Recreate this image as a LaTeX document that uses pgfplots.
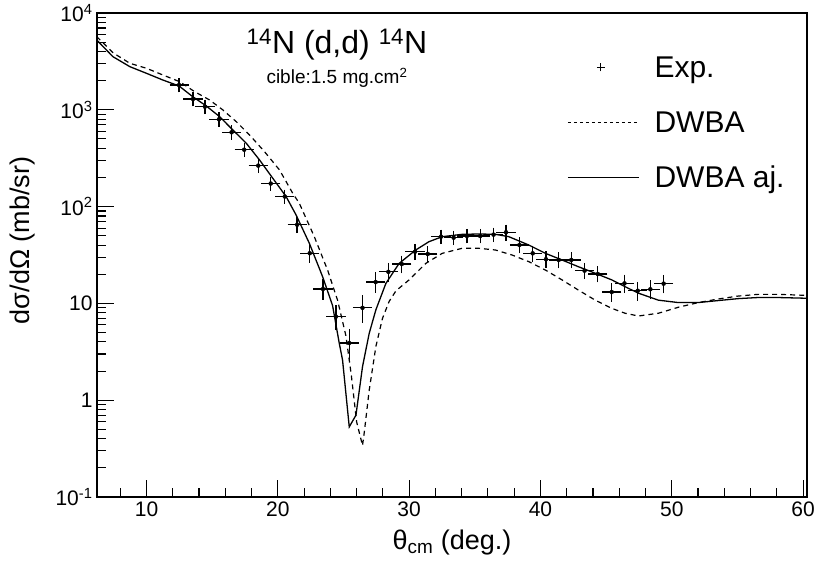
\documentclass[border=0pt]{standalone}
\usepackage{pgfplots}
\pgfplotsset{compat=1.18}
\usepackage{pgfplotstable}
\usepackage{fontspec}
\setmainfont{Liberation Sans}

\pgfplotstableread{
x y ex ey
12.48 1803 0.5 0.10
13.54 1294 0.5 0.10
14.45 1077 0.5 0.10
15.52 798 0.5 0.10
16.48 586 0.5 0.10
17.44 387 0.5 0.10
18.51 265 0.5 0.10
19.46 173 0.5 0.10
20.53 127 0.5 0.10
21.47 65 0.5 0.12
22.43 33 0.5 0.14
23.44 14.1 0.5 0.17
24.43 7.3 0.5 0.22
25.44 3.9 0.5 0.30
26.45 9.0 0.5 0.25
27.45 16.6 0.5 0.17
28.42 21.2 0.5 0.15
29.44 25.5 0.5 0.14
30.45 34.2 0.5 0.12
31.42 32.4 0.5 0.12
32.43 48.9 0.5 0.10
33.39 47.7 0.5 0.10
34.40 49.7 0.5 0.10
35.41 49.7 0.5 0.10
36.43 51.3 0.5 0.10
37.38 54.3 0.5 0.12
38.40 40.1 0.5 0.12
39.41 32.9 0.5 0.12
40.42 28.6 0.5 0.12
41.39 28.1 0.5 0.12
42.35 28.1 0.5 0.12
43.36 21.8 0.5 0.12
44.37 20.1 0.5 0.12
45.43 13.1 0.5 0.15
46.40 16.1 0.5 0.15
47.41 13.5 0.5 0.15
48.37 14.0 0.5 0.15
49.38 16.0 0.5 0.15
}\expdata

\pgfplotstableread{
x y
6.21 5700
7.47 3865
8.74 3020
10.0 2685
11.24 2291
12.53 1951
13.67 1538
14.81 1262
15.82 995
16.84 754
17.85 549
18.99 369
20.13 239
21.14 137
21.64 108
22.78 48.9
23.79 22.1
24.55 10.8
25.19 4.6
25.60 1.8
26.00 0.6
26.45 0.34
26.58 0.46
26.96 1.27
27.47 3.6
27.97 7.0
28.48 10.5
29.00 13.5
30.00 17.5
31.27 25.9
32.52 32.9
34.04 37.1
35.31 37.1
36.58 35.6
37.84 31.6
39.11 27.0
40.38 22.1
41.64 17.5
42.90 13.7
44.17 10.8
45.43 8.89
46.45 7.91
47.46 7.41
48.98 7.91
50.50 9.12
52.02 10.2
53.54 11.1
55.05 11.9
56.57 12.4
58.09 12.4
60.30 12.1
}\dwba

\pgfplotstableread{
x y
6.21 5260
7.44 3540
8.74 2786
10.0 2381
11.24 2032
12.48 1762
13.52 1366
14.56 1094
15.57 849
16.58 618
17.60 451
18.61 303
19.62 196
20.63 127
21.39 82
22.40 41.8
23.41 18.9
24.17 9.5
24.68 3.87
24.93 2.6
25.44 0.53
25.95 0.70
26.45 2.22
26.96 4.91
27.47 8.6
28.23 16.1
29.24 25.9
30.50 35.6
31.51 43.4
32.52 48.9
34.04 51.7
35.31 52.1
36.58 51.7
37.59 48.9
39.11 40.1
40.38 32.9
41.64 28.1
42.90 23.9
44.17 20.5
45.43 17.5
46.70 14.3
47.50 12.7
48.98 10.8
50.50 10.2
52.02 10.2
53.54 10.7
55.05 11.2
56.57 11.5
58.09 11.5
60.30 11.3
}\dwbaaj

\begin{document}
\begin{tikzpicture}
\useasboundingbox (0,0) rectangle (814pt,565pt);
\begin{axis}[
  at={(97pt,68pt)}, anchor=south west,
  width=710pt, height=484pt, scale only axis,
  xmin=6.23, xmax=60.3,
  ymode=log, ymin=0.1, ymax=10000,
  xtick={10,20,30,40,50,60},
  minor xtick={8,12,14,16,18,22,24,26,28,32,34,36,38,42,44,46,48,52,54,56,58},
  ytick={0.1,1,10,100,1000,10000},
  yticklabels={10\textsuperscript{-1},1,10,10\textsuperscript{2},10\textsuperscript{3},10\textsuperscript{4}},
  minor ytick={0.2,0.3,0.4,0.5,0.6,0.7,0.8,0.9,2,3,4,5,6,7,8,9,20,30,40,50,60,70,80,90,200,300,400,500,600,700,800,900,2000,3000,4000,5000,6000,7000,8000,9000},
  xtick pos=bottom, ytick pos=left,
  tick align=inside,
  major tick length=17pt, minor tick length=9pt,
  every tick/.style={black, line width=1.1pt},
  axis line style={line width=1.3pt},
  /pgf/number format/assume math mode=true,
  tick label style={font=\fontsize{21}{22}\selectfont},
  xticklabel style={yshift=-1pt},
  yticklabel style={xshift=-1pt},
  xlabel={θ\textsubscript{cm} (deg.)},
  ylabel={dσ/dΩ (mb/sr)},
  label style={font=\fontsize{27}{29}\selectfont},
  xlabel style={at={(axis description cs:0.5,-0.095)}, anchor=center},
  ylabel style={at={(axis description cs:-0.105,0.53)}, anchor=center},
  legend style={at={(axis description cs:0.662,0.91)}, anchor=north west,
    draw=none, fill=none, font=\fontsize{30}{31}\selectfont,
    row sep=34pt, column sep=15pt, inner sep=0pt,
    nodes={inner sep=0pt, text height=21pt, text depth=0pt}},
  legend cell align=left,
]
\addplot[black, only marks, mark=none,
  legend image code/.code={\draw[black, line width=0.8pt] (33pt,-4pt) -- (33pt,4pt) (29pt,0pt) -- (37pt,0pt);\path (0pt,0pt) (71pt,0pt);},
  error bars/.cd, x dir=both, x explicit, y dir=both, y explicit relative,
  error bar style={line width=1.3pt, black},
  error mark options={black, line width=1.3pt, mark size=3pt}]
  table[x=x, y=y, x error=ex, y error=ey] {\expdata};
\addlegendentry{Exp.}
\addplot[black, line width=1.2pt, dash pattern=on 5pt off 4pt,
  legend image code/.code={\draw[black, line width=1pt, dash pattern=on 3pt off 3pt] (0pt,0pt) -- (71pt,0pt);}]
  table[x=x, y=y] {\dwba};
\addlegendentry{DWBA}
\addplot[black, line width=1.3pt,
  legend image code/.code={\draw[black, line width=1.3pt] (0pt,0pt) -- (71pt,0pt);}]
  table[x=x, y=y] {\dwbaaj};
\addlegendentry{DWBA aj.}
\node[font=\fontsize{32}{34}\selectfont] at (rel axis cs:0.338,0.934) {\textsuperscript{14}N (d,d) \textsuperscript{14}N};
\node[font=\fontsize{19}{20}\selectfont] at (rel axis cs:0.338,0.866) {cible:1.5 mg.cm\textsuperscript{2}};
\end{axis}
\end{tikzpicture}
\end{document}
